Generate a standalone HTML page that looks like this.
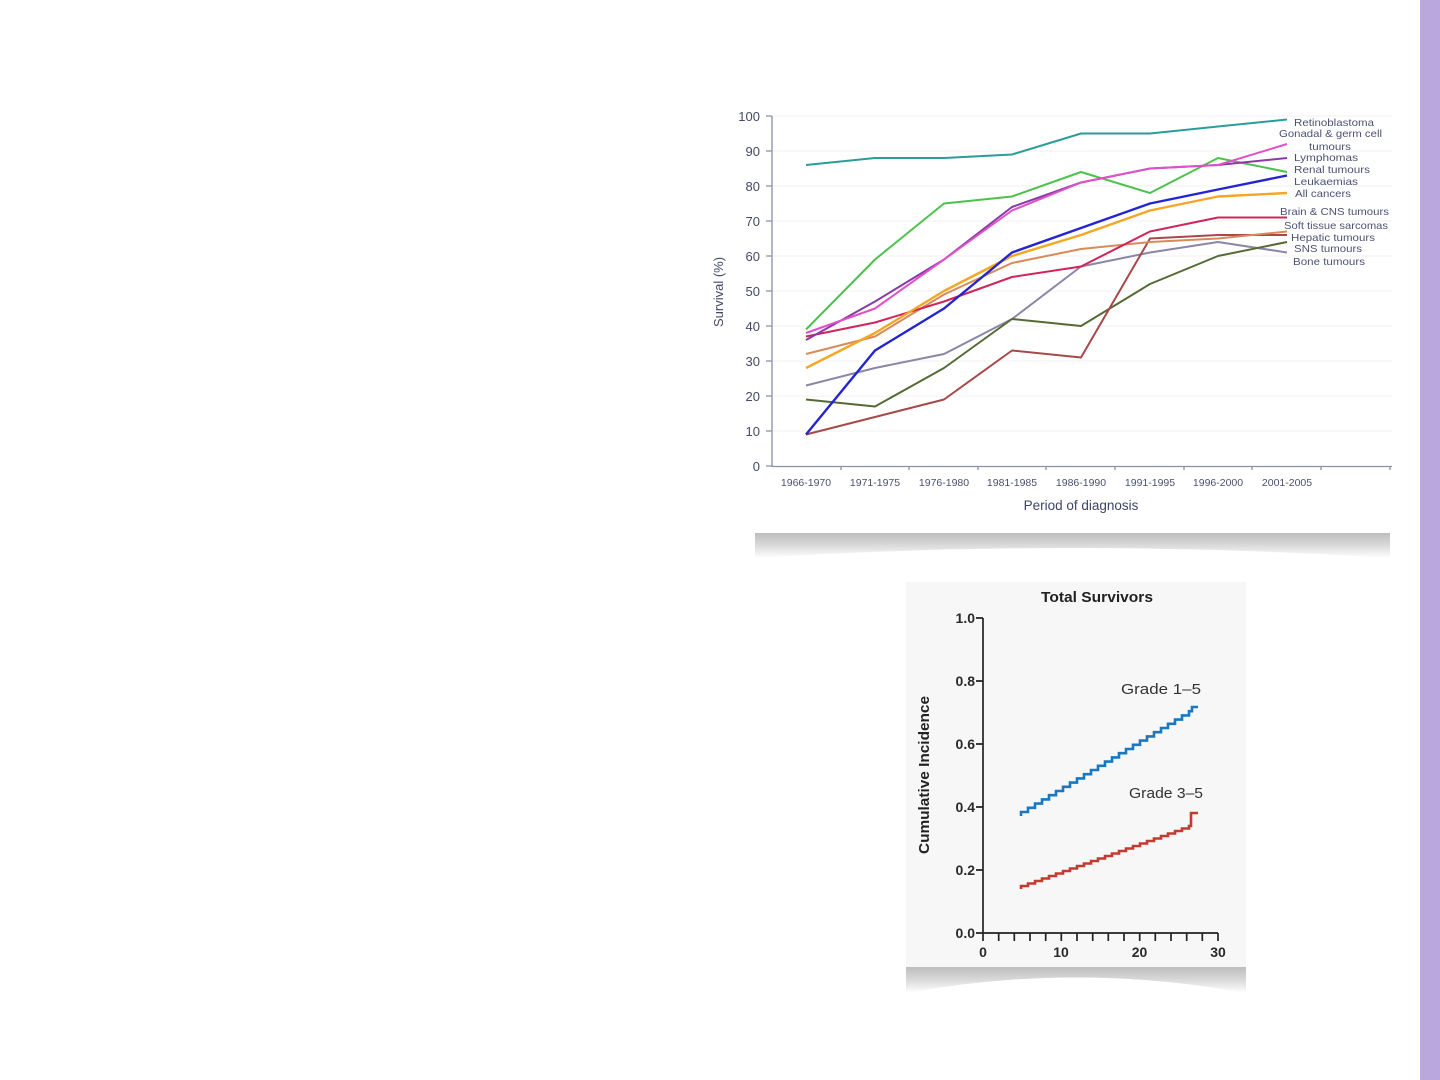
<!DOCTYPE html>
<html><head><meta charset="utf-8"><style>
html,body{margin:0;padding:0;background:#fff;}
svg{display:block;}
</style></head><body>
<svg width="1440" height="1080" viewBox="0 0 1440 1080" xmlns="http://www.w3.org/2000/svg" font-family="Liberation Sans, sans-serif">
<defs>
<linearGradient id="sh" x1="0" y1="0" x2="0" y2="1">
<stop offset="0" stop-color="#bdbdbd"/><stop offset="0.5" stop-color="#dadada"/><stop offset="1" stop-color="#ffffff"/>
</linearGradient>
</defs>
<rect x="0" y="0" width="1440" height="1080" fill="#fff"/>
<rect x="1420" y="0" width="20" height="1080" fill="#b9a7dd"/>

<!-- top chart shadow -->
<path d="M755,533 H1390 V558 Q1072,538 755,558 Z" fill="url(#sh)"/>

<!-- gridlines -->
<g stroke="#f0f0f2" stroke-width="1">
<line x1="772" y1="116" x2="1392" y2="116"/><line x1="772" y1="151" x2="1392" y2="151"/>
<line x1="772" y1="186" x2="1392" y2="186"/><line x1="772" y1="221" x2="1392" y2="221"/>
<line x1="772" y1="256" x2="1392" y2="256"/><line x1="772" y1="291" x2="1392" y2="291"/>
<line x1="772" y1="326" x2="1392" y2="326"/><line x1="772" y1="361" x2="1392" y2="361"/>
<line x1="772" y1="396" x2="1392" y2="396"/><line x1="772" y1="431" x2="1392" y2="431"/>
</g>
<!-- axes -->
<g stroke="#8a90a6" stroke-width="1.3" fill="none">
<line x1="772" y1="116" x2="772" y2="467"/>
<line x1="772" y1="466.5" x2="1392" y2="466.5"/>
<path d="M766,116H772M766,151H772M766,186H772M766,221H772M766,256H772M766,291H772M766,326H772M766,361H772M766,396H772M766,431H772M766,466H772"/>
<path d="M841,466V470M909,466V470M978,466V470M1046,466V470M1115,466V470M1184,466V470M1252,466V470M1321,466V470M1390,466V470"/>
</g>
<g fill="#434966" font-size="13" text-anchor="end">
<text x="760" y="121">100</text><text x="760" y="156">90</text><text x="760" y="191">80</text>
<text x="760" y="226">70</text><text x="760" y="261">60</text><text x="760" y="296">50</text>
<text x="760" y="331">40</text><text x="760" y="366">30</text><text x="760" y="401">20</text>
<text x="760" y="436">10</text><text x="760" y="471">0</text>
</g>
<text transform="translate(723,292) rotate(-90)" fill="#434966" font-size="13" text-anchor="middle">Survival (%)</text>
<g fill="#4a5070" font-size="10.5" text-anchor="middle">
<text x="806" y="486">1966-1970</text><text x="875" y="486">1971-1975</text>
<text x="944" y="486">1976-1980</text><text x="1012" y="486">1981-1985</text>
<text x="1081" y="486">1986-1990</text><text x="1150" y="486">1991-1995</text>
<text x="1218" y="486">1996-2000</text><text x="1287" y="486">2001-2005</text>
</g>
<text x="1081" y="510" fill="#3e4466" font-size="13.5" text-anchor="middle">Period of diagnosis</text>

<!-- series -->
<g fill="none" stroke-width="2" stroke-linejoin="round">
<polyline stroke="#8a86a8" points="806,385.5 875,368 944,354 1012,319 1081,266.5 1150,252.5 1218,242 1287,252.5"/>
<polyline stroke="#556b35" points="806,399.5 875,406.5 944,368 1012,319 1081,326 1150,284 1218,256 1287,242"/>
<polyline stroke="#a84848" points="806,434.5 875,417 944,399.5 1012,350.5 1081,357.5 1150,238.5 1218,235 1287,235"/>
<polyline stroke="#d88a5a" points="806,354 875,336.5 944,294.5 1012,263 1081,249 1150,242 1218,238.5 1287,231.5"/>
<polyline stroke="#d0245a" points="806,336.5 875,322.5 944,301.5 1012,277 1081,266.5 1150,231.5 1218,217.5 1287,217.5"/>
<polyline stroke="#f5a623" stroke-width="2.4" points="806,368 875,333 944,291 1012,256 1081,235 1150,210.5 1218,196.5 1287,193"/>
<polyline stroke="#2424d0" stroke-width="2.4" points="806,434.5 875,350.5 944,308.5 1012,252.5 1081,228 1150,203.5 1218,189.5 1287,175.5"/>
<polyline stroke="#4cc24c" points="806,329.5 875,259.5 944,203.5 1012,196.5 1081,172 1150,193 1218,158 1287,172"/>
<polyline stroke="#8a3aa8" points="806,340 875,301.5 944,259.5 1012,207 1081,182.5 1150,168.5 1218,165 1287,158"/>
<polyline stroke="#e050c8" points="806,333 875,308.5 944,259.5 1012,210.5 1081,182.5 1150,168.5 1218,165 1287,144"/>
<polyline stroke="#2a9d9a" points="806,165 875,158 944,158 1012,154.5 1081,133.5 1150,133.5 1218,126.5 1287,119.5"/>
</g>
<g fill="#4c5272" font-size="10.5">
<text x="1294" y="126" textLength="80" lengthAdjust="spacingAndGlyphs">Retinoblastoma</text>
<text x="1279" y="137" textLength="103" lengthAdjust="spacingAndGlyphs">Gonadal &amp; germ cell</text>
<text x="1309" y="150" textLength="42" lengthAdjust="spacingAndGlyphs">tumours</text>
<text x="1294" y="161" textLength="64" lengthAdjust="spacingAndGlyphs">Lymphomas</text>
<text x="1294" y="173" textLength="76" lengthAdjust="spacingAndGlyphs">Renal tumours</text>
<text x="1294" y="185" textLength="64" lengthAdjust="spacingAndGlyphs">Leukaemias</text>
<text x="1295" y="197" textLength="56" lengthAdjust="spacingAndGlyphs">All cancers</text>
<text x="1280" y="215" textLength="109" lengthAdjust="spacingAndGlyphs">Brain &amp; CNS tumours</text>
<text x="1284" y="229" textLength="104" lengthAdjust="spacingAndGlyphs">Soft tissue sarcomas</text>
<text x="1291" y="241" textLength="84" lengthAdjust="spacingAndGlyphs">Hepatic tumours</text>
<text x="1294" y="252" textLength="68" lengthAdjust="spacingAndGlyphs">SNS tumours</text>
<text x="1293" y="265" textLength="72" lengthAdjust="spacingAndGlyphs">Bone tumours</text>
</g>

<!-- bottom chart -->
<rect x="906" y="582" width="340" height="385" fill="#f7f7f7"/>
<path d="M906,967 H1246 V993 Q1076,962 906,993 Z" fill="url(#sh)"/>
<text x="1097" y="602" font-size="15" font-weight="bold" fill="#222" text-anchor="middle" textLength="112" lengthAdjust="spacingAndGlyphs">Total Survivors</text>
<text transform="translate(929,775) rotate(-90)" font-size="14.5" font-weight="bold" fill="#222" text-anchor="middle" textLength="158" lengthAdjust="spacingAndGlyphs">Cumulative Incidence</text>
<g stroke="#222" stroke-width="1.7" fill="none">
<line x1="983" y1="618" x2="983" y2="934"/>
<line x1="982" y1="933" x2="1218" y2="933"/>
<path d="M976,618H983M976,681H983M976,744H983M976,807H983M976,870H983M976,933H983"/>
<path d="M983,933V941M998.7,933V941M1014.3,933V941M1030,933V941M1045.7,933V941M1061.3,933V941M1077,933V941M1092.7,933V941M1108.3,933V941M1124,933V941M1139.7,933V941M1155.3,933V941M1171,933V941M1186.7,933V941M1202.3,933V941M1218,933V941"/>
</g>
<g font-size="14" fill="#2a2a2a" text-anchor="end" font-weight="bold">
<text x="975" y="623">1.0</text><text x="975" y="686">0.8</text><text x="975" y="749">0.6</text>
<text x="975" y="812">0.4</text><text x="975" y="875">0.2</text><text x="975" y="938">0.0</text>
</g>
<g font-size="14" fill="#2a2a2a" text-anchor="middle" font-weight="bold">
<text x="983" y="957">0</text><text x="1061" y="957">10</text><text x="1139.5" y="957">20</text><text x="1218" y="957">30</text>
</g>
<text x="1161" y="694" font-size="14.5" fill="#333" text-anchor="middle" textLength="80" lengthAdjust="spacingAndGlyphs">Grade 1–5</text>
<text x="1166" y="798" font-size="14.5" fill="#333" text-anchor="middle" textLength="74" lengthAdjust="spacingAndGlyphs">Grade 3–5</text>
<path fill="none" stroke="#1a78c2" stroke-width="2.6" d="M1021,816 V812 H1028 V807.8 H1035 V803.6 H1042 V799.4 H1049 V795.2 H1056 V791 H1063 V786.8 H1070 V782.6 H1077 V778.4 H1084 V774.2 H1091 V770 H1098 V765.8 H1105 V761.6 H1112 V757.4 H1119 V753.2 H1126 V749 H1133 V744.8 H1140 V740.6 H1147 V736.4 H1154 V732.2 H1161 V728 H1168 V723.8 H1175 V719.6 H1182 V715.4 H1189 V711.2 H1192 V707 H1198"/>
<path fill="none" stroke="#c23a30" stroke-width="2.6" d="M1021,889 V886 H1028 V883.5 H1035 V881 H1042 V878.5 H1049 V876 H1056 V873.5 H1063 V871 H1070 V868.5 H1077 V866 H1084 V863.5 H1091 V861 H1098 V858.5 H1105 V856 H1112 V853.5 H1119 V851 H1126 V848.5 H1133 V846 H1140 V843.5 H1147 V841 H1154 V838.5 H1161 V836 H1168 V833.5 H1175 V831 H1182 V828.5 H1189 V826 H1191 V813 H1198"/>
</svg>
</body></html>
